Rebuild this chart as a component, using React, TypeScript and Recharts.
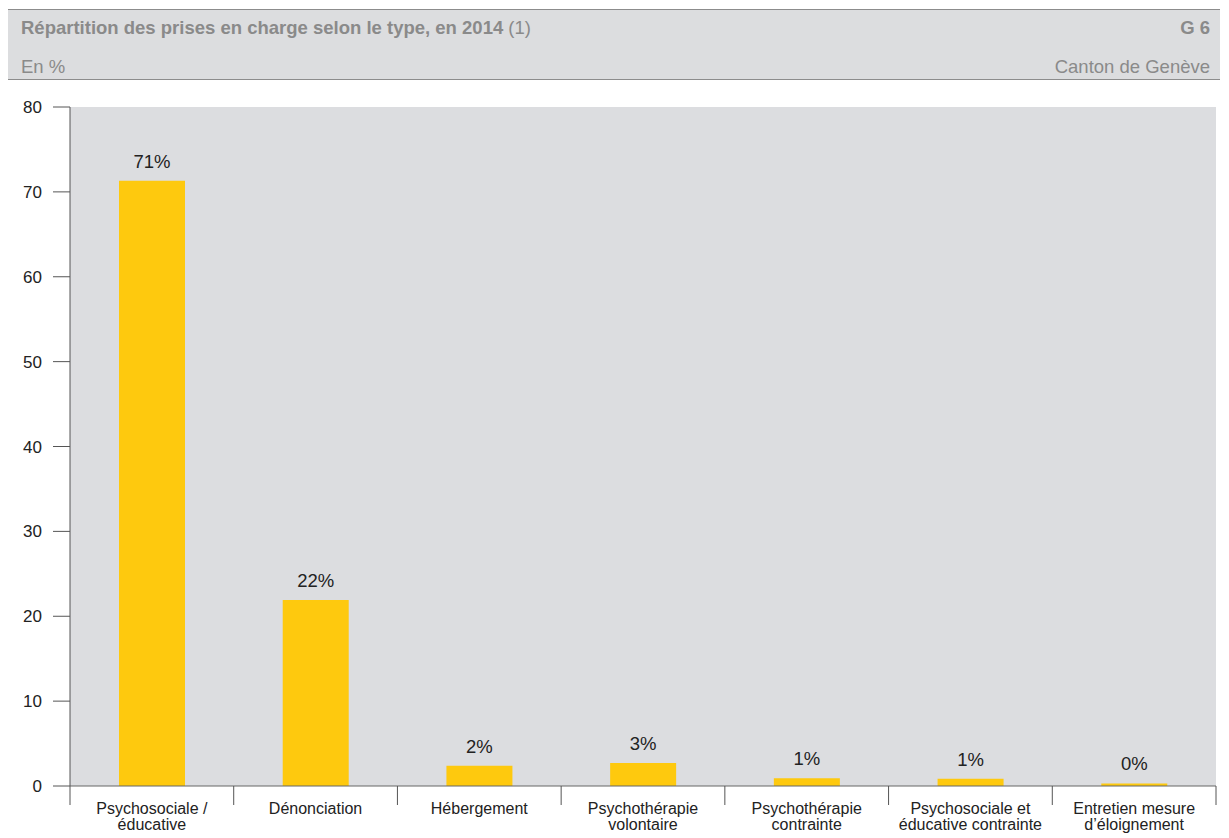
import { BarChart, Bar, XAxis, YAxis, CartesianGrid, LabelList } from 'recharts'

const categories = [
  'Psychosociale /\néducative',
  'Dénonciation',
  'Hébergement',
  'Psychothérapie\nvolontaire',
  'Psychothérapie\ncontrainte',
  'Psychosociale et\néducative contrainte',
  'Entretien mesure\nd’éloignement',
]
const values = [71.3, 21.9, 2.4, 2.7, 0.9, 0.85, 0.3]
const valueLabels = ['71%', '22%', '2%', '3%', '1%', '1%', '0%']
const yTicks = [0, 10, 20, 30, 40, 50, 60, 70, 80]

const data = categories.map((name, i) => ({ name, value: values[i], label: valueLabels[i] }))

const FONT = '"Liberation Sans", Arial, Helvetica, sans-serif'
const HEADER_TEXT = '#8a8a8a'

function CategoryTick(props: any) {
  const { x, y, payload, index, width, visibleTicksCount } = props
  const half = payload?.offset || width / visibleTicksCount / 2
  const lines = String(payload.value).split('\n')
  const last = index === visibleTicksCount - 1
  return (
    <g>
      <line x1={x - half} x2={x - half} y1={y} y2={y + 19} stroke="#555" strokeWidth={1} />
      {last && <line x1={x + half} x2={x + half} y1={y} y2={y + 19} stroke="#555" strokeWidth={1} />}
      <text x={x} y={y + 28} textAnchor="middle" fontSize={16} fill="#222" fontFamily={FONT}>
        {lines.map((l, k) => (
          <tspan key={k} x={x} dy={k === 0 ? 0 : 16}>{l}</tspan>
        ))}
      </text>
    </g>
  )
}

export default function App() {
  return (
    <div style={{ position: 'absolute', left: 0, top: 0, width: 1229, height: 838, background: '#fff', fontFamily: FONT }}>
      <div
        style={{
          position: 'absolute', left: 8, top: 9, width: 1212, height: 69,
          background: '#dcdddf', borderTop: '1px solid #8c8c8c', borderBottom: '1px solid #8c8c8c',
          color: HEADER_TEXT, fontSize: 18.5, lineHeight: '20px',
        }}
      >
        <div style={{ position: 'absolute', left: 13, top: 8 }}>
          <b>Répartition des prises en charge selon le type, en 2014</b> (1)
        </div>
        <div style={{ position: 'absolute', right: 10, top: 8, fontWeight: 'bold' }}>G 6</div>
        <div style={{ position: 'absolute', left: 13, top: 47 }}>En %</div>
        <div style={{ position: 'absolute', right: 10, top: 47 }}>Canton de Genève</div>
      </div>
      <div style={{ position: 'absolute', left: 0, top: 0 }}>
        <BarChart
          width={1229}
          height={838}
          data={data}
          margin={{ top: 107, right: 13, left: 10, bottom: 0 }}
          barCategoryGap={49}
        >
          <CartesianGrid fill="#dcdde0" stroke="none" horizontal={false} vertical={false} />
          <XAxis
            dataKey="name"
            height={52}
            interval={0}
            tickSize={0}
            tickMargin={0}
            tickLine={false}
            axisLine={{ stroke: '#666' }}
            tick={<CategoryTick />}
          />
          <YAxis
            width={60}
            domain={[0, 80]}
            ticks={yTicks}
            tickSize={17}
            tickMargin={11}
            axisLine={{ stroke: '#555' }}
            tickLine={{ stroke: '#555' }}
            tick={{ fontSize: 17, fill: '#222', fontFamily: FONT }}
          />
          <Bar dataKey="value" fill="#fec90e" isAnimationActive={false}>
            <LabelList dataKey="label" position="top" offset={13} fontSize={18.5} fill="#222" fontFamily={FONT} />
          </Bar>
        </BarChart>
      </div>
    </div>
  )
}
